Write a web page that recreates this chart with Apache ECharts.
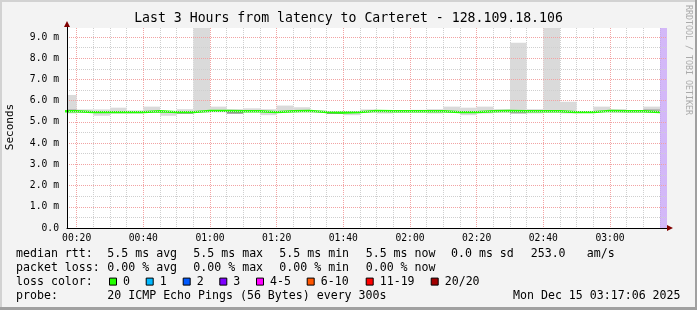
<!DOCTYPE html>
<html><head><meta charset="utf-8">
<script src="https://cdn.jsdelivr.net/npm/echarts@6/dist/echarts.min.js"></script>
<style>html,body{margin:0;padding:0;background:#f3f3f3}#c{width:697px;height:310px}</style>
</head><body><div id="c"></div>
<script>
// ---- data ----
const intervalStarts = ['00:15','00:20','00:25','00:30','00:35','00:40','00:45','00:50','00:55',
  '01:00','01:05','01:10','01:15','01:20','01:25','01:30','01:35','01:40','01:45','01:50','01:55',
  '02:00','02:05','02:10','02:15','02:20','02:25','02:30','02:35','02:40','02:45','02:50','02:55',
  '03:00','03:05','03:10'];
const medianMs = [5.50,5.46,5.46,5.46,5.46,5.50,5.46,5.46,5.52,5.52,5.50,5.50,5.46,5.50,5.52,5.46,5.44,
  5.46,5.52,5.50,5.50,5.50,5.50,5.46,5.46,5.50,5.52,5.50,5.50,5.50,5.46,5.46,5.52,5.50,5.50,5.46];
const smokeLowMs = [5.40,5.42,5.29,5.39,5.39,5.43,5.29,5.40,5.43,5.45,5.40,5.45,5.32,5.45,5.45,5.43,5.37,
  5.32,5.43,5.40,5.43,5.43,5.40,5.43,5.32,5.40,5.43,5.43,5.40,5.43,5.40,5.43,5.45,5.43,5.43,5.43];
const smokeHighMs = [6.27,5.59,5.59,5.67,5.54,5.72,5.50,5.60,9.60,5.72,5.60,5.64,5.60,5.77,5.69,5.54,5.49,
  5.51,5.59,5.55,5.55,5.57,5.60,5.72,5.67,5.72,5.60,8.73,5.60,9.60,5.95,5.50,5.72,5.60,5.55,5.72];
// denser smoke (darker gray) bands: [interval start, low, high]
const smokeDense = [['00:15',5.52,5.58],['00:50',5.39,5.45],['01:05',5.39,5.46],['01:35',5.38,5.43],
  ['02:30',5.40,5.45],['03:10',5.54,5.58]];
const stepMinutes = 5;
const viewStart = '00:17:06';
const viewEnd = '03:17:06';
const unknownStart = '03:15';
const yMax = 9.425;
const yTickLabels = ['0.0','1.0 m','2.0 m','3.0 m','4.0 m','5.0 m','6.0 m','7.0 m','8.0 m','9.0 m'];
const xTickLabels = ['00:20','00:40','01:00','01:20','01:40','02:00','02:20','02:40','03:00'];
const xFirstTick = '00:20';
const xLastGrid = '03:15';
const title = 'Last 3 Hours from latency to Carteret - 128.109.18.106';
const legendRows = [
  [['median rtt:',16],['5.5 ms avg',107.3],['5.5 ms max',193.3],['5.5 ms min',279.3],['5.5 ms now',365.7],['0.0 ms sd',451],['253.0',530.7],['am/s',586.7]],
  [['packet loss:',16],['0.00 % avg',107.3],['0.00 % max',193.3],['0.00 % min',279.3],['0.00 % now',365.7]],
  [['loss color:',16]],
  [['probe:',16],['20 ICMP Echo Pings (56 Bytes) every 300s',107.3],['Mon Dec 15 03:17:06 2025',513]]
];
const lossLabels = ['0','1','2','3','4-5','6-10','11-19','20/20'];
const lossColors = ['#22ff00','#00b8ff','#0059ff','#7e00ff','#ff00ff','#ff5500','#ff0000','#a10000'];
const lossBoxX = [109,145.7,182.7,219.3,256,306.7,365.7,430.7];

// ---- helpers ----
function toMin(s){const p=s.split(':').map(Number);return p[0]*60+p[1]+(p[2]||0)/60;}
const MONO = '"DejaVu Sans Mono", monospace';
const PL = 67, PT = 28, PW = 600, PH = 200;
const x0 = toMin(viewStart), x1 = toMin(viewEnd);
const pxPerMin = PW/(x1-x0);
const g2Left = PL + (toMin(xFirstTick)-x0)*pxPerMin;
const g2Width = (toMin(xLastGrid)-toMin(xFirstTick))*pxPerMin;
const RED = '#f2a3a3', GRAY = '#cfcfcf';

const smokeData = intervalStarts.map((t,i)=>[toMin(t), toMin(t)+stepMinutes, smokeLowMs[i], smokeHighMs[i]]);
const denseData = smokeDense.map(d=>[toMin(d[0]), toMin(d[0])+stepMinutes, d[1], d[2]]);
const medianData = intervalStarts.map((t,i)=>[toMin(t), medianMs[i]]);
medianData.push([toMin(intervalStarts[intervalStarts.length-1])+stepMinutes, medianMs[medianMs.length-1]]);

function bandRenderer(fill){
  return function(params,api){
    const a=api.coord([api.value(0),api.value(3)]);
    const b=api.coord([api.value(1),api.value(2)]);
    const cs=params.coordSys;
    const r=echarts.graphic.clipRectByRect({x:a[0],y:a[1],width:b[0]-a[0],height:b[1]-a[1]},{x:cs.x,y:cs.y,width:cs.width,height:cs.height});
    return r?{type:'rect',shape:r,style:{fill:fill}}:null;
  };
}

const graphics = [];
graphics.push({type:'rect',shape:{x:0,y:0,width:697,height:2},style:{fill:'#d2d2d2'},silent:true});
graphics.push({type:'rect',shape:{x:0,y:0,width:2,height:310},style:{fill:'#d2d2d2'},silent:true});
graphics.push({type:'rect',shape:{x:695,y:0,width:2,height:310},style:{fill:'#a0a0a0'},silent:true});
graphics.push({type:'rect',shape:{x:0,y:307,width:697,height:3},style:{fill:'#a0a0a0'},silent:true});
graphics.push({type:'polygon',shape:{points:[[64,27],[67,21],[70,27]]},style:{fill:'#800000'},silent:true,z:10});
graphics.push({type:'polygon',shape:{points:[[667,225],[673,228],[667,231]]},style:{fill:'#800000'},silent:true,z:10});
graphics.push({type:'line',shape:{x1:67.5,y1:27,x2:67.5,y2:28},style:{stroke:'#000'},silent:true});
graphics.push({type:'text',x:10,y:127,rotation:Math.PI/2,style:{text:'Seconds',font:'11px '+MONO,fill:'#000',align:'center',verticalAlign:'middle'},silent:true});
graphics.push({type:'text',x:688,y:60,rotation:-Math.PI/2,style:{text:'RRDTOOL / TOBI OETIKER',font:'8.3px '+MONO,fill:'#aaaaaa',align:'center',verticalAlign:'middle'},silent:true});
const rowY = [254.3,267.8,281.6,295.6];
legendRows.forEach((row,r)=>row.forEach(([txt,x])=>{
  graphics.push({type:'text',x:x,y:rowY[r],style:{text:txt,font:'11.6px '+MONO,fill:'#000',align:'left',verticalAlign:'middle'},silent:true});
}));
lossLabels.forEach((lab,i)=>{
  graphics.push({type:'rect',shape:{x:lossBoxX[i]+0.5,y:rowY[2]-3.5,width:7,height:7},style:{fill:lossColors[i],stroke:'#000',lineWidth:1},silent:true});
  graphics.push({type:'text',x:lossBoxX[i]+14,y:rowY[2],style:{text:lab,font:'11.6px '+MONO,fill:'#000',align:'left',verticalAlign:'middle'},silent:true});
});

const chart = echarts.init(document.getElementById('c'), null, {renderer:'canvas'});
chart.setOption({
  animation:false,
  backgroundColor:'#f3f3f3',
  title:{text:title,left:'center',top:12,padding:0,textStyle:{fontFamily:MONO,fontSize:13.2,fontWeight:'normal',color:'#000'}},
  grid:[
    {left:PL,top:PT,width:PW,height:PH,show:true,backgroundColor:'#ffffff',borderWidth:0},
    {left:g2Left,top:PT,width:g2Width,height:PH,show:false}
  ],
  xAxis:[
    {type:'value',gridIndex:0,min:x0,max:x1,
      axisLine:{show:true,onZero:false,lineStyle:{color:'#000',width:1}},
      axisTick:{show:false},axisLabel:{show:false},splitLine:{show:false},z:5},
    {type:'value',gridIndex:1,min:toMin(xFirstTick),max:toMin(xLastGrid),interval:stepMinutes,
      axisLine:{show:false},axisTick:{show:false},
      axisLabel:{show:true,margin:5,fontFamily:MONO,fontSize:9.7,color:'#000',
        formatter:function(v){const k=(v-toMin(xFirstTick))/20;return Math.abs(k-Math.round(k))<1e-6?(xTickLabels[Math.round(k)]||''):'';}},
      splitLine:{show:true,lineStyle:{color:[RED,GRAY,GRAY,GRAY],type:[1,1],width:1}}}
  ],
  yAxis:[
    {type:'value',gridIndex:0,min:0,max:yMax,interval:0.5,
      axisLine:{show:true,lineStyle:{color:'#000',width:1}},axisTick:{show:false},
      axisLabel:{showMaxLabel:false,margin:8,fontFamily:MONO,fontSize:9.7,color:'#000',
        formatter:function(v){const k=Math.round(v*2);return k%2===0?(yTickLabels[k/2]||''):'';}},
      splitLine:{show:true,showMaxLine:false,lineStyle:{color:[RED,GRAY],type:[1,1],width:1}},z:5},
    {type:'value',gridIndex:1,min:0,max:yMax,show:false,splitLine:{show:false}}
  ],
  series:[
    {type:'custom',xAxisIndex:0,yAxisIndex:0,data:smokeData,encode:{x:[0,1],y:[2,3]},z:2,renderItem:bandRenderer('#dadada')},
    {type:'custom',xAxisIndex:0,yAxisIndex:0,data:denseData,encode:{x:[0,1],y:[2,3]},z:2,renderItem:bandRenderer('#8c8c8c')},
    {type:'line',xAxisIndex:0,yAxisIndex:0,data:medianData,step:'end',symbol:'none',z:3,
      lineStyle:{color:lossColors[0],width:2.4},
      markArea:{silent:true,itemStyle:{color:'rgba(196,160,245,0.75)'},
        data:[[{xAxis:toMin(unknownStart)},{xAxis:x1}]]}}
  ],
  graphic:graphics
});
</script></body></html>
